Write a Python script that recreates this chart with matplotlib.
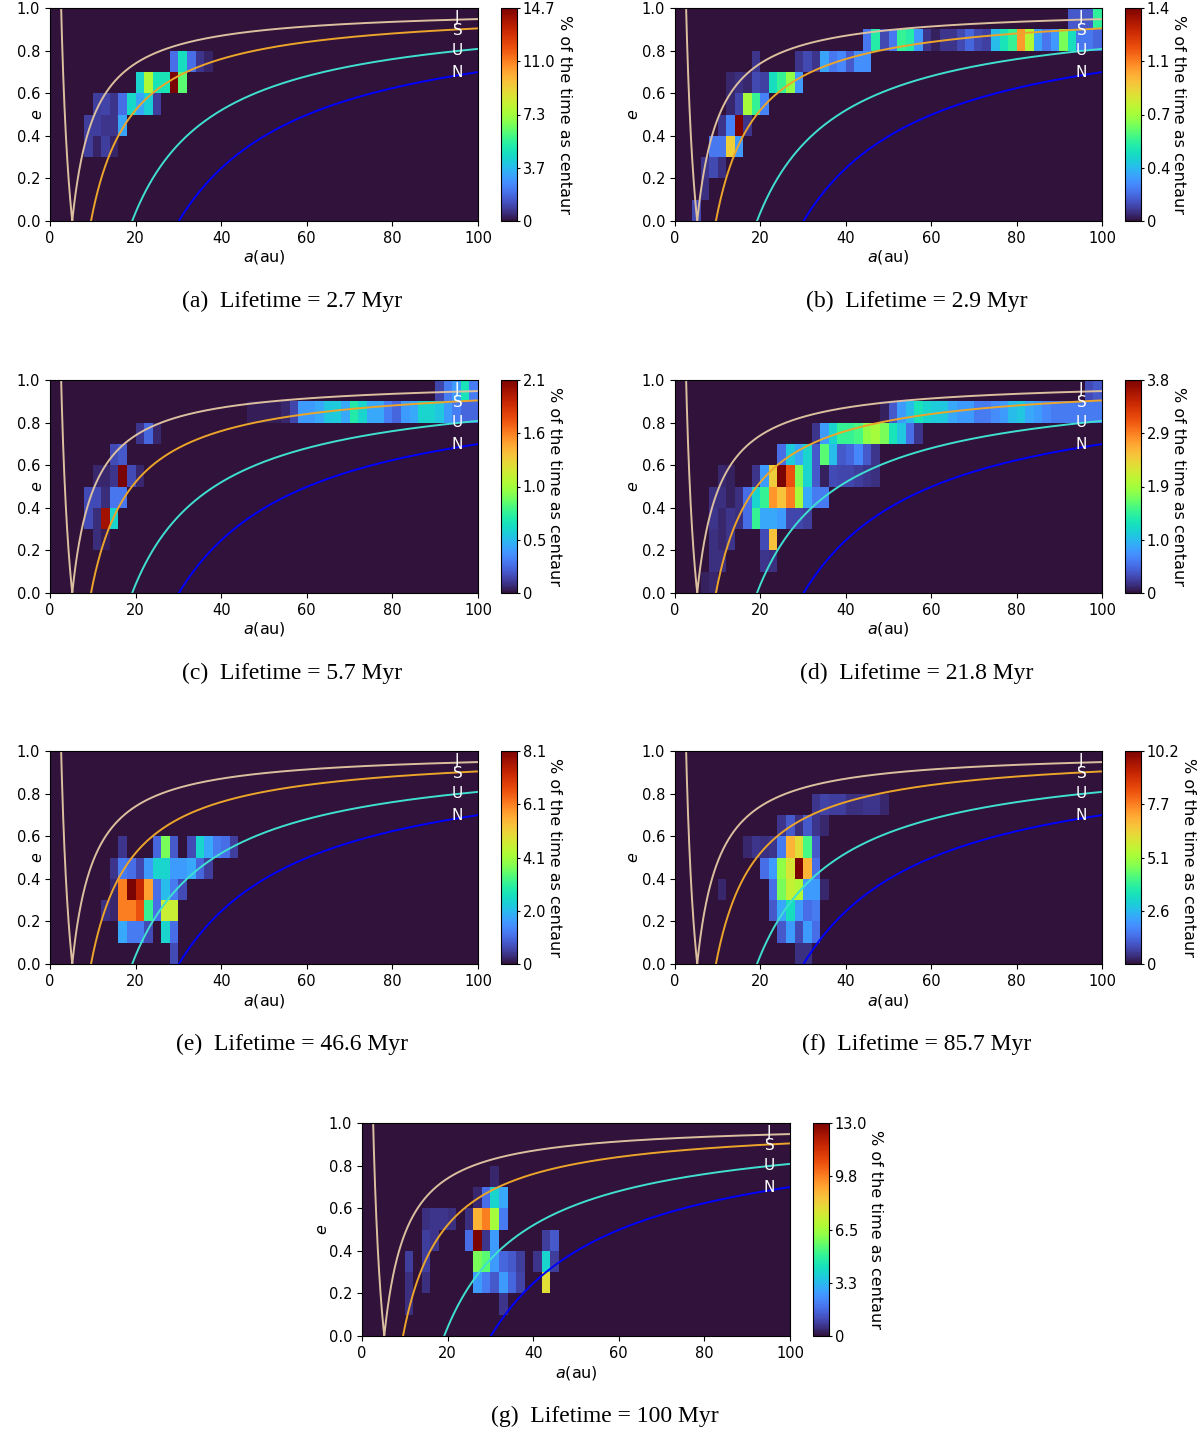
import numpy as np
import matplotlib
matplotlib.use('Agg')
import matplotlib.pyplot as plt

W, H = 1200, 1432
fig = plt.figure(figsize=(W / 100, H / 100), dpi=100)

# ---------------- data ----------------
a_edges = np.arange(0, 101, 2)
e_edges = np.round(np.arange(0, 1.001, 0.1), 2)

planet_names = ['J', 'S', 'U', 'N']
planet_a = [5.2, 9.58, 19.2, 30.1]
planet_colors = ['#dcbf9e', '#eca52b', '#40e0d0', '#0000ff']
label_e = [0.955, 0.893, 0.80, 0.695]

# rows: (e bin lower edge, a of first bin, values in % per 2-au bin)
hist_a = [
    (0.7, 28, [1.9, 4.7, 1.9, 0.7, 0.4]),
    (0.6, 20, [4.4, 7.6, 4.9, 4.9, 14.7, 6.2]),
    (0.5, 10, [0.9, 1.0, 0.7, 1.9, 4.5, 3.2, 4.2, 0.9]),
    (0.4, 8, [0.9, 0.9, 0.7, 0.7, 3.2]),
    (0.3, 8, [0.9, 0.4, 0.9, 0.4]),
]
hist_b = [
    (0.9, 92, [0.14, 0.14, 0.14, 0.53]),
    (0.8, 44, [0.21, 0.51, 0.11, 0.21, 0.54, 0.51, 0.28, 0.07, 0.03, 0.07, 0.07, 0.11, 0.17, 0.11,
               0.09, 0.36, 0.47, 0.54, 1.02, 0.74, 0.31, 0.20, 0.28, 0.64, 0.45, 0.21, 0.21, 0.17]),
    (0.7, 18, [0.07, 0, 0, 0, 0, 0.07, 0.11, 0.07, 0.31, 0.21, 0.24, 0.14, 0.26, 0.26]),
    (0.6, 12, [0.04, 0.06, 0.04, 0.11, 0.09, 0.45, 0.54, 0.68, 0.28]),
    (0.5, 12, [0.04, 0.10, 0.71, 0.54, 0.23]),
    (0.4, 10, [0.07, 0.23, 1.42, 0.07]),
    (0.3, 8, [0.21, 0.21, 0.89, 0.28]),
    (0.2, 6, [0.07, 0.11, 0.06]),
    (0.1, 6, [0.06]),
    (0.0, 4, [0.11]),
]
hist_c = [
    (0.9, 90, [0.15, 0.32, 0.42, 0.69, 0.32]),
    (0.8, 46, [0.04, 0.04, 0.04, 0.04, 0.06, 0.15, 0.42, 0.42, 0.46, 0.57, 0.59, 0.46, 0.74, 0.63,
               0.46, 0.46, 0.32, 0.25, 0.42, 0.46, 0.63, 0.63, 0.57, 0.42, 0.32, 0.25, 0.25]),
    (0.7, 20, [0.10, 0.25, 0.06]),
    (0.6, 14, [0.17, 0.21]),
    (0.5, 10, [0.06, 0.06, 0.10, 2.10, 0.17, 0.06]),
    (0.4, 8, [0.17, 0.17, 0.08, 0.30, 0.30]),
    (0.3, 8, [0.17, 0.08, 2.0, 0.63]),
    (0.2, 10, [0.08, 0.04]),
]
hist_d = [
    (0.9, 96, [0.30, 0.38]),
    (0.8, 48, [0.08, 0.38, 0.76, 0.95, 1.25, 1.14, 1.06, 1.03, 0.84, 0.76, 0.76, 0.57, 0.57,
               0.68, 0.76, 0.95, 1.03, 0.84, 0.76, 0.65, 0.57, 0.57, 0.57, 0.57, 0.57, 0.57]),
    (0.7, 32, [0.19, 0.76, 1.14, 1.44, 1.44, 1.52, 1.82, 1.90, 1.71, 1.25, 1.03, 0.49, 0.19]),
    (0.6, 24, [0.49, 1.06, 0.84, 1.14, 0.38, 1.60, 0.95, 0.38, 0.46, 0.65, 0.38, 0.19]),
    (0.5, 10, [0.11, 0.08, 0, 0, 0.19, 0.76, 2.4, 3.8, 3.1, 1.71, 1.14, 0.38, 0.08, 0.30,
               0.27, 0.27, 0.23, 0.19, 0.15]),
    (0.4, 8, [0.15, 0.15, 0.08, 0.15, 0.49, 1.14, 1.44, 2.74, 2.47, 2.85, 1.90, 0.84, 0.57, 0.57]),
    (0.3, 8, [0.19, 0.11, 0.19, 0.15, 0.49, 1.44, 0.84, 0.84, 0.76, 0.27, 0.27, 0.23]),
    (0.2, 8, [0.15, 0.11, 0.19, 0, 0, 0, 0.30, 2.47]),
    (0.1, 8, [0.15, 0.15, 0, 0, 0, 0, 0.19, 0.15]),
    (0.0, 6, [0.08, 0.11]),
]
hist_e = [
    (0.5, 16, [0.40, 0, 0, 0, 0.97, 3.65, 0.81, 0, 0.65, 2.43, 1.78, 1.22, 1.05, 0.49]),
    (0.4, 14, [0.40, 1.22, 1.05, 0.57, 1.62, 2.43, 2.43, 1.62, 1.62, 1.78, 0.97, 0.49]),
    (0.3, 14, [0.24, 6.1, 8.1, 7.3, 5.7, 1.05, 2.03, 1.22, 0.65]),
    (0.2, 12, [0.32, 0.24, 6.1, 6.1, 6.6, 3.1, 1.05, 4.5, 4.5]),
    (0.1, 16, [1.78, 1.22, 1.22, 0.65, 0, 2.43, 1.05]),
    (0.0, 28, [0.65]),
]
hist_f = [
    (0.7, 32, [0.51, 0.71, 0.61, 0.61, 0.41, 0.41, 0.51, 0.51, 0.31]),
    (0.6, 24, [0.51, 1.02, 0.41, 1.02, 0.51, 0.31]),
    (0.5, 16, [0.31, 0.51, 0.41, 0.51, 1.53, 6.9, 6.1, 4.1, 1.02]),
    (0.4, 20, [1.33, 2.04, 4.9, 5.9, 10.2, 6.9, 1.33]),
    (0.3, 10, [0.31, 0, 0, 0, 0, 0, 1.33, 4.6, 5.6, 5.3, 2.04, 2.04, 0.31]),
    (0.2, 22, [1.02, 2.24, 3.26, 2.04, 1.33, 1.53]),
    (0.1, 24, [1.02, 2.04, 0.82, 2.04, 1.33]),
    (0.0, 28, [0.41, 0.41]),
]
hist_g = [
    (0.7, 30, [0.39]),
    (0.6, 26, [0.39, 1.69, 3.9, 2.86]),
    (0.5, 14, [0.52, 0.65, 0.65, 0.52, 0, 0.52, 8.8, 9.8, 6.5, 1.95]),
    (0.4, 14, [0.78, 0.65, 0, 0, 0, 1.69, 13.0, 0.65, 2.6, 0, 0, 0, 0, 0, 0.78, 1.3]),
    (0.3, 10, [0.78, 0, 0.78, 0, 0, 0, 0, 0, 5.85, 5.46, 2.6, 1.56, 1.3, 0.78, 0, 0.65, 3.9, 0.78]),
    (0.2, 10, [0.52, 0, 0.52, 0, 0, 0, 0, 0, 2.6, 1.95, 1.3, 2.6, 1.56, 0.91, 0, 0, 7.8]),
    (0.1, 10, [0.52, 0, 0, 0, 0, 0, 0, 0, 0, 0, 0, 0.65]),
]

vmax_list = [14.7, 1.42, 2.1, 3.8, 8.1, 10.2, 13.0]
cbar_labels = [
    ['0', '3.7', '7.3', '11.0', '14.7'],
    ['0', '0.4', '0.7', '1.1', '1.4'],
    ['0', '0.5', '1.0', '1.6', '2.1'],
    ['0', '1.0', '1.9', '2.9', '3.8'],
    ['0', '2.0', '4.1', '6.1', '8.1'],
    ['0', '2.6', '5.1', '7.7', '10.2'],
    ['0', '3.3', '6.5', '9.8', '13.0'],
]
letters = ['a', 'b', 'c', 'd', 'e', 'f', 'g']
lifetimes = ['2.7', '2.9', '5.7', '21.8', '46.6', '85.7', '100']
hists = [hist_a, hist_b, hist_c, hist_d, hist_e, hist_f, hist_g]

# ---------------- layout (pixels) ----------------
ax_boxes = [(50, 8, 478, 221), (675, 8, 1102, 221),
            (50, 380, 478, 593), (675, 380, 1102, 593),
            (50, 751, 478, 964), (675, 751, 1102, 964),
            (362, 1123, 790, 1336)]
ylabel_x = [45, 641, 45, 641, 45, 641, 330]
cap_pos = [(292, 301), (917, 301), (292, 673), (917, 673),
           (292, 1044), (917, 1044), (605, 1416)]


def frac(l, t, r, b):
    return [l / W, 1 - b / H, (r - l) / W, (b - t) / H]


def build(rows):
    Z = np.zeros((len(e_edges) - 1, len(a_edges) - 1))
    for e_low, a0, vals in rows:
        i = int(round(e_low * 10))
        j0 = a0 // 2
        Z[i, j0:j0 + len(vals)] = vals
    return Z


cmap = plt.get_cmap('turbo')
a_curve = np.linspace(2.0, 100, 4000)

for k in range(7):
    l, t, r, b = ax_boxes[k]
    ax = fig.add_axes(frac(l, t, r, b))
    Z = build(hists[k])
    mesh = ax.pcolormesh(a_edges, e_edges, Z, cmap=cmap, vmin=0, vmax=vmax_list[k],
                         shading='flat')
    for name, ap, col, le in zip(planet_names, planet_a, planet_colors, label_e):
        if name == 'J':
            ee = np.abs(1 - ap / a_curve)
            ax.plot(a_curve, ee, color=col, lw=1.4)
        else:
            aa = a_curve[a_curve >= ap]
            ax.plot(aa, 1 - ap / aa, color=col, lw=1.4)
        ax.text(95.2, le, name, color='white', fontsize=11, ha='center', va='center')
    ax.set_xlim(0, 100)
    ax.set_ylim(0, 1)
    ax.set_xticks([0, 20, 40, 60, 80, 100])
    ax.set_yticks([0.0, 0.2, 0.4, 0.6, 0.8, 1.0])
    ax.tick_params(labelsize=10.5)
    ax.set_xlabel('$a$(au)', fontsize=11.5, labelpad=2)
    ax.set_ylabel('$e$', fontsize=11.5)
    ax.yaxis.set_label_coords((ylabel_x[k] - l) / (r - l), 0.5)

    cax = fig.add_axes(frac(r + 23, t, r + 39, b))
    cb = fig.colorbar(mesh, cax=cax)
    cb.set_ticks(np.linspace(0, vmax_list[k], 5))
    cb.set_ticklabels(cbar_labels[k])
    cb.ax.tick_params(labelsize=10.5, length=2.5, pad=1.5)
    cb.set_label('% of the time as centaur', rotation=270, va='bottom',
                 fontsize=11.5, labelpad=1)

    cx, cy = cap_pos[k]
    fig.text(cx / W, 1 - cy / H, f'({letters[k]})  Lifetime = {lifetimes[k]} Myr',
             ha='center', va='center', fontsize=17,
             family=['Liberation Serif', 'DejaVu Serif'])

fig.savefig('out.png', dpi=100)
